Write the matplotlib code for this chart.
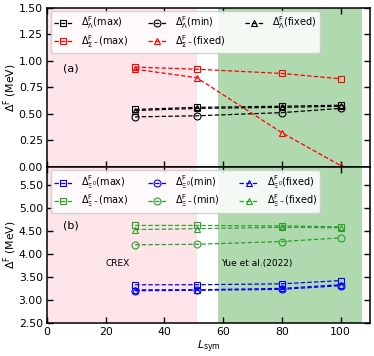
import matplotlib
matplotlib.use("Agg")
import matplotlib.pyplot as plt
from matplotlib.ticker import FormatStrFormatter

# L_sym values
L = [30, 51, 80, 100]

# panel (a)
lam_max = [0.54, 0.56, 0.57, 0.58]
lam_min = [0.47, 0.48, 0.51, 0.55]
lam_fix = [0.53, 0.55, 0.56, 0.57]
sig_max = [0.94, 0.92, 0.88, 0.83]
sig_fix = [0.92, 0.84, 0.32, 0.01]

# panel (b)
xi0_max = [3.33, 3.33, 3.35, 3.42]
xi0_min = [3.20, 3.21, 3.23, 3.31]
xi0_fix = [3.22, 3.22, 3.25, 3.33]
xim_max = [4.62, 4.62, 4.61, 4.59]
xim_min = [4.20, 4.21, 4.27, 4.35]
xim_fix = [4.53, 4.55, 4.58, 4.57]

plt.rcParams['font.size'] = 7.8
plt.rcParams['mathtext.fontset'] = 'dejavusans'

fig = plt.figure(figsize=(3.74, 3.56), dpi=100)
ax1 = fig.add_axes([0.126, 0.532, 0.863, 0.446])
ax2 = fig.add_axes([0.126, 0.093, 0.863, 0.439], sharex=ax1)

mk = dict(ls='--', lw=0.9, ms=5, mfc='none', mew=0.8, dashes=(3.5, 1.8))
leg = dict(loc='upper left', ncol=3, fontsize=7, handlelength=1.9, columnspacing=2.0,
           handletextpad=0.9, framealpha=0.85, borderaxespad=0.35, labelspacing=0.15,
           borderpad=0.35)

for ax in (ax1, ax2):
    ax.axvspan(0, 51, color='#fde4e8', lw=0, zorder=0)
    ax.axvspan(58.3, 107.2, color='#b0d9b0', lw=0, zorder=0)
    ax.set_xlim(0, 110)
    ax.tick_params(direction='in', top=True, right=True, length=4, width=1,
                   labelsize=7.8, pad=3)
    for s in ax.spines.values():
        s.set_linewidth(1.1)
    ax.set_ylabel(r'$\Delta^{\rm F}$ (MeV)', fontsize=7.8)
    ax.yaxis.set_label_coords(-0.088, 0.5)
    ax.yaxis.set_major_formatter(FormatStrFormatter('%.2f'))

# panel (a)
ax1.plot(L, lam_max, color='k', marker='s', label=r'$\Delta^{\rm F}_{\Lambda}$(max)', **mk)
ax1.plot(L, sig_max, color='r', marker='s', label=r'$\Delta^{\rm F}_{\Sigma^-}$(max)', **mk)
ax1.plot(L, lam_min, color='k', marker='o', label=r'$\Delta^{\rm F}_{\Lambda}$(min)', **mk)
ax1.plot(L, sig_fix, color='r', marker='^', label=r'$\Delta^{\rm F}_{\Sigma^-}$(fixed)', **mk)
ax1.plot(L, lam_fix, color='k', marker='^', label=r'$\Delta^{\rm F}_{\Lambda}$(fixed)', **mk)
ax1.set_ylim(0, 1.5)
ax1.set_yticks([0, 0.25, 0.5, 0.75, 1.0, 1.25, 1.5])
ax1.tick_params(labelbottom=False)
ax1.text(5.5, 0.93, '(a)', fontsize=8, va='center')
ax1.legend(**leg)

# panel (b)
ax2.plot(L, xi0_max, color='b', marker='s', label=r'$\Delta^{\rm F}_{\Xi^0}$(max)', **mk)
ax2.plot(L, xim_max, color='#2ca02c', marker='s', label=r'$\Delta^{\rm F}_{\Xi^-}$(max)', **mk)
ax2.plot(L, xi0_min, color='b', marker='o', label=r'$\Delta^{\rm F}_{\Xi^0}$(min)', **mk)
ax2.plot(L, xim_min, color='#2ca02c', marker='o', label=r'$\Delta^{\rm F}_{\Xi^-}$(min)', **mk)
ax2.plot(L, xi0_fix, color='b', marker='^', label=r'$\Delta^{\rm F}_{\Xi^0}$(fixed)', **mk)
ax2.plot(L, xim_fix, color='#2ca02c', marker='^', label=r'$\Delta^{\rm F}_{\Xi^-}$(fixed)', **mk)
ax2.set_ylim(2.5, 5.9)
ax2.set_yticks([2.5, 3.0, 3.5, 4.0, 4.5, 5.0, 5.5])
ax2.set_xticks([0, 20, 40, 60, 80, 100])
ax2.text(5.5, 4.62, '(b)', fontsize=8, va='center')
ax2.text(24, 3.8, 'CREX', fontsize=6.5, ha='center', va='center')
ax2.text(71.5, 3.8, 'Yue et al.(2022)', fontsize=6.5, ha='center', va='center')
ax2.set_xlabel(r'$L_{\rm sym}$', fontsize=8, labelpad=1)
ax2.legend(**leg)

fig.savefig('out.png', dpi=100)
